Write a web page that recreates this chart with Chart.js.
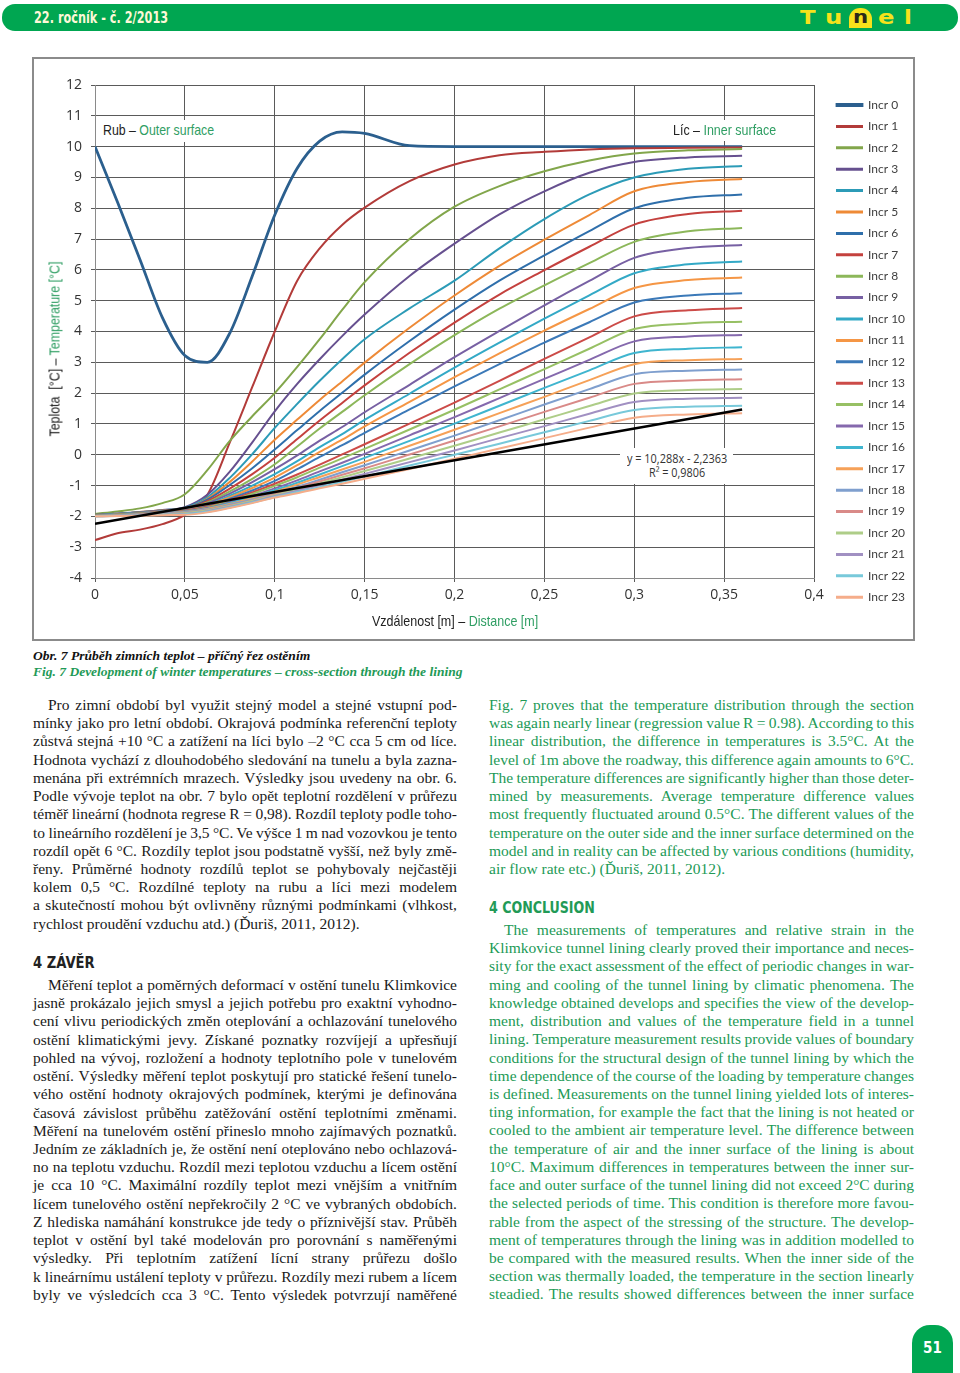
<!DOCTYPE html>
<html lang="cs">
<head>
<meta charset="utf-8">
<title>Tunel 2/2013 – Obr. 7</title>
<script src="https://cdn.jsdelivr.net/npm/chart.js@4.4.1/dist/chart.umd.min.js"></script>
<style>
html,body{margin:0;padding:0;background:#fff;}
body{width:960px;height:1373px;position:relative;overflow:hidden;}
.abs{position:absolute;}
.fit{display:inline-block;white-space:nowrap;transform-origin:left center;}
.hdr{left:2px;top:4px;width:956px;height:27px;background:#00a651;border-radius:13px;}
.hdrtxt{left:34px;top:8px;font:bold 16px "DejaVu Sans Condensed","DejaVu Sans",sans-serif;color:#fdf8d8;}
.logo{top:5px;font:900 20px "DejaVu Sans",sans-serif;color:#f7e21b;}
.nbox{left:849px;top:8px;width:23px;height:20px;background:#f7e21b;border-radius:11px 11px 0 0;}
.nchr{left:853px;top:7px;font:bold 17px "DejaVu Sans",sans-serif;color:#2a2a1a;}
.frame{left:32px;top:57px;width:883px;height:584px;border:2px solid #8b8b8b;box-sizing:border-box;background:#fff;}
#chart{position:absolute;left:34px;top:59px;}
.atitle{font:15px "Liberation Sans",Arial,sans-serif;color:#222;}
.grn{color:#2f9e63;}
.wbox{background:#fff;}
.reg{font:12px "Open Sans",sans-serif;color:#333;}
.cap{left:33px;font:bold italic 13px "Liberation Serif","Times New Roman",serif;}
.col{position:absolute;font:15.5px/18.22px "Liberation Serif","Times New Roman",serif;}
.l{height:18.22px;white-space:nowrap;}
.l span{white-space:nowrap;}
.ind{padding-left:15px;}
.head{font:bold 16px "DejaVu Sans Condensed","DejaVu Sans",sans-serif;}
.tab{left:912px;top:1325px;width:41px;height:48px;background:#00a651;border-radius:18px 18px 0 0;}
.pg{left:912px;top:1339px;width:41px;text-align:center;font:bold 15px "DejaVu Sans Condensed","DejaVu Sans",sans-serif;color:#fff;}
</style>
</head>
<body>
<!-- header -->
<div class="abs hdr"></div>
<div class="abs hdrtxt"><span class="fit" data-w="134">22. ročník - č. 2/2013</span></div>
<div class="abs logo" style="left:800px"><span class="fit" data-w="16">T</span></div>
<div class="abs logo" style="left:825px"><span class="fit" data-w="17">u</span></div>
<div class="abs nbox"></div>
<div class="abs nchr"><span class="fit" data-w="15">n</span></div>
<div class="abs logo" style="left:878px"><span class="fit" data-w="17">e</span></div>
<div class="abs logo" style="left:904px"><span class="fit" data-w="8">l</span></div>

<!-- chart -->
<div class="abs frame"></div>
<canvas id="chart" width="879" height="580"></canvas>

<div class="abs wbox" style="left:100px;top:120px;width:118px;height:22px"></div>
<div class="abs atitle" style="left:103px;top:121px"><span class="fit" data-w="111">Rub – <span class="grn">Outer surface</span></span></div>
<div class="abs wbox" style="left:670px;top:120px;width:110px;height:21px"></div>
<div class="abs atitle" style="left:673px;top:121px"><span class="fit" data-w="103">Líc – <span class="grn">Inner surface</span></span></div>

<div class="abs wbox" style="left:620px;top:448px;width:113px;height:36px"></div>
<div class="abs reg" style="left:627px;top:450px"><span class="fit" data-w="100">y = 10,288x - 2,2363</span></div>
<div class="abs reg" style="left:649px;top:464px"><span class="fit" data-w="56">R² = 0,9806</span></div>

<div class="abs atitle" style="left:372px;top:612px"><span class="fit" data-w="166">Vzdálenost [m] – <span class="grn">Distance [m]</span></span></div>
<div class="abs atitle" style="left:54px;top:349px;width:0;height:0">
  <div style="position:absolute;left:0;top:0;transform:translate(-50%,-50%) rotate(-90deg);white-space:nowrap">
    <span class="fit" data-w="175" data-origin="center">Teplota&nbsp;&nbsp;[°C] – <span class="grn">Temperature [°C]</span></span>
  </div>
</div>

<!-- captions -->
<div class="abs cap" style="top:648px;color:#111"><span class="fit" data-w="277">Obr. 7 Průběh zimních teplot – příčný řez ostěním</span></div>
<div class="abs cap" style="top:664px;color:#1f9a57"><span class="fit" data-w="430">Fig. 7 Development of winter temperatures – cross-section through the lining</span></div>

<!-- left column -->
<div class="col" style="left:33px;top:696px;width:424px;color:#1a1a1a">
<div class="l j ind"><span>Pro zimní období byl využit stejný model a stejné vstupní pod-</span></div>
<div class="l j"><span>mínky jako pro letní období. Okrajová podmínka referenční teploty</span></div>
<div class="l j"><span>zůstvá stejná +10 °C a zatížení na líci bylo –2 °C cca 5 cm od líce.</span></div>
<div class="l j"><span>Hodnota vychází z dlouhodobého sledování na tunelu a byla zazna-</span></div>
<div class="l j"><span>menána při extrémních mrazech. Výsledky jsou uvedeny na obr. 6.</span></div>
<div class="l j"><span>Podle vývoje teplot na obr. 7 bylo opět teplotní rozdělení v průřezu</span></div>
<div class="l j"><span>téměř lineární (hodnota regrese R = 0,98). Rozdíl teploty podle toho-</span></div>
<div class="l j"><span>to lineárního rozdělení je 3,5 °C. Ve výšce 1 m nad vozovkou je tento</span></div>
<div class="l j"><span>rozdíl opět 6 °C. Rozdíly teplot jsou podstatně vyšší, než byly změ-</span></div>
<div class="l j"><span>řeny. Průměrné hodnoty rozdílů teplot se pohybovaly nejčastěji</span></div>
<div class="l j"><span>kolem 0,5 °C. Rozdílné teploty na rubu a líci mezi modelem</span></div>
<div class="l j"><span>a skutečností mohou být ovlivněny různými podmínkami (vlhkost,</span></div>
<div class="l"><span>rychlost proudění vzduchu atd.) (Ďuriš, 2011, 2012).</span></div>
</div>

<div class="abs head" style="left:33px;top:953px;color:#222"><span class="fit" data-w="62">4 ZÁVĚR</span></div>

<div class="col" style="left:33px;top:976px;width:424px;color:#1a1a1a">
<div class="l j ind"><span>Měření teplot a poměrných deformací v ostění tunelu Klimkovice</span></div>
<div class="l j"><span>jasně prokázalo jejich smysl a jejich potřebu pro exaktní vyhodno-</span></div>
<div class="l j"><span>cení vlivu periodických změn oteplování a ochlazování tunelového</span></div>
<div class="l j"><span>ostění klimatickými jevy. Získané poznatky rozvíjejí a upřesňují</span></div>
<div class="l j"><span>pohled na vývoj, rozložení a hodnoty teplotního pole v tunelovém</span></div>
<div class="l j"><span>ostění. Výsledky měření teplot poskytují pro statické řešení tunelo-</span></div>
<div class="l j"><span>vého ostění hodnoty okrajových podmínek, kterými je definována</span></div>
<div class="l j"><span>časová závislost průběhu zatěžování ostění teplotními změnami.</span></div>
<div class="l j"><span>Měření na tunelovém ostění přineslo mnoho zajímavých poznatků.</span></div>
<div class="l j"><span>Jedním ze základních je, že ostění není oteplováno nebo ochlazová-</span></div>
<div class="l j"><span>no na teplotu vzduchu. Rozdíl mezi teplotou vzduchu a lícem ostění</span></div>
<div class="l j"><span>je cca 10 °C. Maximální rozdíly teplot mezi vnějším a vnitřním</span></div>
<div class="l j"><span>lícem tunelového ostění nepřekročily 2 °C ve vybraných obdobích.</span></div>
<div class="l j"><span>Z hlediska namáhání konstrukce jde tedy o příznivější stav. Průběh</span></div>
<div class="l j"><span>teplot v ostění byl také modelován pro porovnání s naměřenými</span></div>
<div class="l j"><span>výsledky. Při teplotním zatížení lícní strany průřezu došlo</span></div>
<div class="l j"><span>k lineárnímu ustálení teploty v průřezu. Rozdíly mezi rubem a lícem</span></div>
<div class="l j"><span>byly ve výsledcích cca 3 °C. Tento výsledek potvrzují naměřené</span></div>
</div>

<!-- right column -->
<div class="col" style="left:489px;top:696px;width:425px;color:#229a56">
<div class="l j"><span>Fig. 7 proves that the temperature distribution through the section</span></div>
<div class="l j"><span>was again nearly linear (regression value R = 0.98). According to this</span></div>
<div class="l j"><span>linear distribution, the difference in temperatures is 3.5°C. At the</span></div>
<div class="l j"><span>level of 1m above the roadway, this difference again amounts to 6°C.</span></div>
<div class="l j"><span>The temperature differences are significantly higher than those deter-</span></div>
<div class="l j"><span>mined by measurements. Average temperature difference values</span></div>
<div class="l j"><span>most frequently fluctuated around 0.5°C. The different values of the</span></div>
<div class="l j"><span>temperature on the outer side and the inner surface determined on the</span></div>
<div class="l j"><span>model and in reality can be affected by various conditions (humidity,</span></div>
<div class="l"><span>air flow rate etc.) (Ďuriš, 2011, 2012).</span></div>
</div>

<div class="abs head" style="left:489px;top:898px;color:#229a56"><span class="fit" data-w="106">4 CONCLUSION</span></div>

<div class="col" style="left:489px;top:921px;width:425px;color:#229a56">
<div class="l j ind"><span>The measurements of temperatures and relative strain in the</span></div>
<div class="l j"><span>Klimkovice tunnel lining clearly proved their importance and neces-</span></div>
<div class="l j"><span>sity for the exact assessment of the effect of periodic changes in war-</span></div>
<div class="l j"><span>ming and cooling of the tunnel lining by climatic phenomena. The</span></div>
<div class="l j"><span>knowledge obtained develops and specifies the view of the develop-</span></div>
<div class="l j"><span>ment, distribution and values of the temperature field in a tunnel</span></div>
<div class="l j"><span>lining. Temperature measurement results provide values of boundary</span></div>
<div class="l j"><span>conditions for the structural design of the tunnel lining by which the</span></div>
<div class="l j"><span>time dependence of the course of the loading by temperature changes</span></div>
<div class="l j"><span>is defined. Measurements on the tunnel lining yielded lots of interes-</span></div>
<div class="l j"><span>ting information, for example the fact that the lining is not heated or</span></div>
<div class="l j"><span>cooled to the ambient air temperature level. The difference between</span></div>
<div class="l j"><span>the temperature of air and the inner surface of the lining is about</span></div>
<div class="l j"><span>10°C. Maximum differences in temperatures between the inner sur-</span></div>
<div class="l j"><span>face and outer surface of the tunnel lining did not exceed 2°C during</span></div>
<div class="l j"><span>the selected periods of time. This condition is therefore more favou-</span></div>
<div class="l j"><span>rable from the aspect of the stressing of the structure. The develop-</span></div>
<div class="l j"><span>ment of temperatures through the lining was in addition modelled to</span></div>
<div class="l j"><span>be compared with the measured results. When the inner side of the</span></div>
<div class="l j"><span>section was thermally loaded, the temperature in the section linearly</span></div>
<div class="l j"><span>steadied. The results showed differences between the inner surface</span></div>
</div>

<!-- footer -->
<div class="abs tab"></div>
<div class="abs pg">51</div>

<script>
// ---- data ----
const distances = [0, 0.0125, 0.025, 0.0375, 0.05, 0.0625, 0.075, 0.0875, 0.1, 0.1125, 0.125, 0.1375, 0.15, 0.175, 0.2, 0.225, 0.25, 0.275, 0.3, 0.33, 0.36];

const incr0  = [10.0, 8.2, 6.34, 4.45, 3.22, 3.0, 3.95, 5.8, 7.78, 9.3, 10.18, 10.48, 10.43, 10.03, 10.0, 10.0, 10.0, 10.0, 10.0, 10.0, 10.0];
const incr1  = [-2.77, -2.55, -2.43, -2.25, -1.95, -1.3, 0.4, 2.2, 4.0, 5.65, 6.7, 7.46, 8.02, 8.88, 9.42, 9.72, 9.83, 9.91, 9.95, 9.96, 9.97];
const incr2  = [-1.92, -1.84, -1.74, -1.57, -1.28, -0.5, 0.45, 1.25, 2.0, 2.85, 3.75, 4.7, 5.6, 7.0, 8.05, 8.72, 9.2, 9.55, 9.78, 9.88, 9.92];
const incr3  = [-1.95, -1.91, -1.86, -1.79, -1.70, -1.3, -0.55, 0.4, 1.41, 2.3, 3.1, 3.85, 4.55, 5.8, 6.85, 7.8, 8.55, 9.15, 9.5, 9.65, 9.7];
const incr4  = [-1.96, -1.92, -1.87, -1.80, -1.72, -1.38, -0.75, 0.02, 0.87, 1.65, 2.4, 3.1, 3.75, 4.75, 5.65, 6.7, 7.65, 8.45, 9.0, 9.28, 9.37];
const incr5  = [-1.96, -1.92, -1.86, -1.80, -1.74, -1.43, -0.88, -0.22, 0.49, 1.14, 1.78, 2.38, 2.99, 4.12, 5.17, 6.13, 6.98, 7.78, 8.55, 8.85, 8.95];
const incr6  = [-1.96, -1.92, -1.87, -1.81, -1.75, -1.46, -0.98, -0.44, 0.17, 0.80, 1.42, 2.01, 2.60, 3.69, 4.71, 5.65, 6.47, 7.26, 8.0, 8.34, 8.45];
const incr7  = [-1.97, -1.93, -1.88, -1.82, -1.76, -1.51, -1.10, -0.63, -0.10, 0.51, 1.11, 1.68, 2.25, 3.31, 4.29, 5.20, 5.99, 6.75, 7.47, 7.81, 7.92];
const incr8  = [-1.97, -1.93, -1.88, -1.83, -1.77, -1.55, -1.19, -0.78, -0.31, 0.27, 0.85, 1.39, 1.93, 2.94, 3.88, 4.74, 5.50, 6.22, 6.91, 7.25, 7.36];
const incr9  = [-1.97, -1.93, -1.88, -1.83, -1.78, -1.58, -1.26, -0.89, -0.47, -0.02, 0.46, 0.90, 1.38, 2.27, 3.17, 4.02, 4.85, 5.64, 6.39, 6.71, 6.81];
const incr10 = [-1.97, -1.93, -1.89, -1.84, -1.79, -1.62, -1.33, -1.00, -0.63, -0.21, 0.25, 0.67, 1.13, 1.98, 2.83, 3.64, 4.42, 5.17, 5.89, 6.18, 6.27];
const incr11 = [-1.98, -1.94, -1.90, -1.85, -1.80, -1.64, -1.38, -1.08, -0.74, -0.34, 0.09, 0.49, 0.92, 1.72, 2.52, 3.29, 4.03, 4.73, 5.41, 5.67, 5.75];
const incr12 = [-1.98, -1.95, -1.90, -1.86, -1.81, -1.67, -1.43, -1.16, -0.85, -0.47, -0.07, 0.31, 0.71, 1.47, 2.22, 2.94, 3.64, 4.30, 4.94, 5.17, 5.24];
const incr13 = [-1.98, -1.95, -1.91, -1.86, -1.82, -1.69, -1.47, -1.22, -0.94, -0.64, -0.32, 0.01, 0.34, 1.01, 1.69, 2.40, 3.11, 3.81, 4.49, 4.69, 4.76];
const incr14 = [-1.98, -1.95, -1.91, -1.87, -1.83, -1.71, -1.50, -1.27, -1.01, -0.73, -0.42, -0.12, 0.19, 0.82, 1.46, 2.12, 2.78, 3.44, 4.08, 4.26, 4.32];
const incr15 = [-1.99, -1.96, -1.92, -1.88, -1.84, -1.73, -1.54, -1.33, -1.09, -0.83, -0.54, -0.26, 0.03, 0.63, 1.22, 1.84, 2.46, 3.08, 3.68, 3.84, 3.89];
const incr16 = [-1.99, -1.96, -1.93, -1.89, -1.85, -1.75, -1.57, -1.37, -1.15, -0.91, -0.64, -0.37, -0.10, 0.45, 1.01, 1.59, 2.17, 2.74, 3.30, 3.44, 3.49];
const incr17 = [-1.99, -1.96, -1.93, -1.90, -1.86, -1.76, -1.60, -1.41, -1.20, -0.97, -0.72, -0.48, -0.23, 0.29, 0.81, 1.35, 1.88, 2.42, 2.94, 3.07, 3.11];
const incr18 = [-1.99, -1.97, -1.94, -1.90, -1.87, -1.78, -1.62, -1.45, -1.25, -1.04, -0.81, -0.57, -0.34, 0.14, 0.62, 1.12, 1.63, 2.13, 2.61, 2.73, 2.77];
const incr19 = [-2.0, -1.98, -1.95, -1.92, -1.89, -1.80, -1.65, -1.48, -1.28, -1.08, -0.87, -0.65, -0.44, 0.01, 0.46, 0.92, 1.39, 1.85, 2.30, 2.41, 2.45];
const incr20 = [-2.0, -1.98, -1.96, -1.93, -1.90, -1.81, -1.66, -1.50, -1.31, -1.13, -0.93, -0.73, -0.53, -0.12, 0.29, 0.72, 1.15, 1.58, 1.99, 2.10, 2.13];
const incr21 = [-2.0, -1.98, -1.96, -1.94, -1.92, -1.83, -1.69, -1.53, -1.34, -1.17, -0.99, -0.81, -0.62, -0.24, 0.14, 0.54, 0.93, 1.33, 1.71, 1.82, 1.85];
const incr22 = [-2.0, -1.99, -1.97, -1.95, -1.93, -1.85, -1.71, -1.55, -1.37, -1.21, -1.05, -0.88, -0.71, -0.35, 0.00, 0.36, 0.73, 1.10, 1.45, 1.56, 1.59];
const incr23 = [-2.0, -1.99, -1.98, -1.96, -1.95, -1.87, -1.73, -1.57, -1.39, -1.25, -1.09, -0.94, -0.78, -0.46, -0.13, 0.20, 0.54, 0.88, 1.20, 1.31, 1.35];

const seriesValues = [incr0, incr1, incr2, incr3, incr4, incr5, incr6, incr7, incr8, incr9, incr10, incr11,
                      incr12, incr13, incr14, incr15, incr16, incr17, incr18, incr19, incr20, incr21, incr22, incr23];
const seriesNames = ['Incr 0','Incr 1','Incr 2','Incr 3','Incr 4','Incr 5','Incr 6','Incr 7','Incr 8','Incr 9','Incr 10','Incr 11',
                     'Incr 12','Incr 13','Incr 14','Incr 15','Incr 16','Incr 17','Incr 18','Incr 19','Incr 20','Incr 21','Incr 22','Incr 23'];
const seriesColors = ['#2b5f8e','#b23b39','#82a64b','#66508f','#2c9bb7','#ee8a37',
                      '#2f6fab','#c4413e','#8cb75a','#7760a3','#33a9c6','#f59645',
                      '#3b79b8','#cc4b48','#97c064','#8569ad','#3fb5cf','#f6a158',
                      '#7f9fce','#d98a88','#aecd88','#a190c2','#78c9da','#f5ad8a'];

// linear trendline (Excel) endpoints
const trendDistances = [0, 0.36];
const trendValues = [-2.24, 1.47];

const xTickLabels = ['0','0,05','0,1','0,15','0,2','0,25','0,3','0,35','0,4'];

// ---- text fitting helpers (page typography) ----
document.querySelectorAll('.fit').forEach(el => {
  const w = el.offsetWidth, t = +el.dataset.w;
  if (el.dataset.origin) el.style.transformOrigin = 'center center';
  el.style.transform = 'scaleX(' + (t / w) + ')';
});
document.querySelectorAll('.l.j').forEach(el => {
  const span = el.firstElementChild;
  const pad = parseFloat(getComputedStyle(el).paddingLeft) || 0;
  const W = el.clientWidth - pad;
  const w = span.getBoundingClientRect().width;
  const n = (span.textContent.match(/ /g) || []).length;
  if (n) span.style.wordSpacing = ((W - w) / n) + 'px';
});

// ---- chart ----
const datasets = seriesValues.map((vals, i) => ({
  label: seriesNames[i],
  data: distances.map((x, k) => ({ x: x, y: vals[k] })),
  borderColor: seriesColors[i],
  backgroundColor: seriesColors[i],
  borderWidth: i === 0 ? 2.8 : 2,
  pointRadius: 0,
  fill: false,
  cubicInterpolationMode: 'monotone',
  order: 100 - i
}));
datasets.push({
  label: 'Trend',
  data: trendDistances.map((x, k) => ({ x: x, y: trendValues[k] })),
  borderColor: '#000', backgroundColor: '#000',
  borderWidth: 2.6, pointRadius: 0, fill: false, order: 0
});

const gridStyle = { color: '#5a5a5a', lineWidth: 1, tickLength: 4 };
const tickFont = { family: 'Open Sans', size: 14 };

new Chart(document.getElementById('chart'), {
  type: 'line',
  data: { datasets: datasets },
  options: {
    responsive: false,
    animation: false,
    devicePixelRatio: 1,
    layout: { padding: { top: 26, right: 5.4, bottom: 0, left: 0 } },
    plugins: {
      tooltip: { enabled: false },
      legend: {
        position: 'right',
        align: 'start',
        maxWidth: 80,
        title: { display: true, text: '', padding: 0, font: { size: 3.833 } },
        labels: {
          boxWidth: 25, boxHeight: 1, padding: 9.4,
          color: '#404040',
          font: { family: 'Lato', size: 12 },
          filter: item => item.datasetIndex < seriesNames.length,
          sort: (a, b) => a.datasetIndex - b.datasetIndex
        }
      }
    },
    scales: {
      x: {
        type: 'linear', min: 0, max: 0.4,
        afterFit: s => { s.height = 61; },
        ticks: { stepSize: 0.05, padding: 5, color: '#333', font: tickFont, maxRotation: 0, autoSkip: false,
                 callback: v => xTickLabels[Math.round(v / 0.05)] },
        grid: gridStyle,
        border: { color: '#8a8a8a' }
      },
      y: {
        min: -4, max: 12,
        afterFit: s => { s.width = 61; },
        ticks: { stepSize: 1, padding: 9, color: '#333', font: tickFont },
        grid: gridStyle,
        border: { color: '#8a8a8a' }
      },
      gap: {
        type: 'linear', position: 'right', display: true,
        ticks: { display: false }, grid: { display: false }, border: { display: false },
        afterFit: s => { s.width = 13.6; }
      }
    }
  }
});
</script>
</body>
</html>
